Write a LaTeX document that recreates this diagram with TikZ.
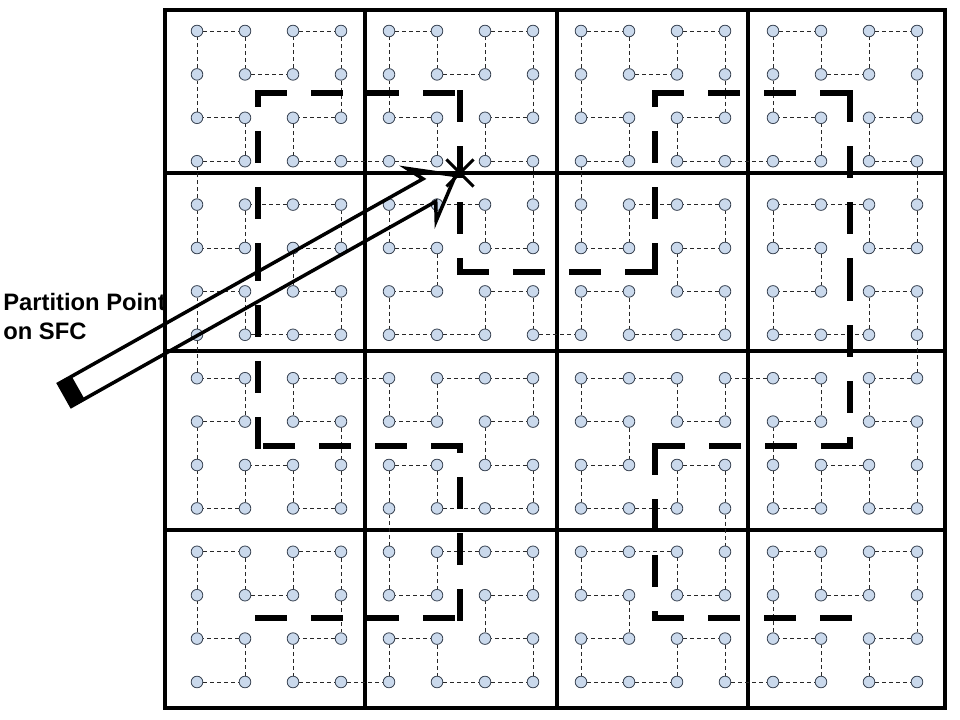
\documentclass[tikz,border=0pt]{standalone}
\usepackage{fontspec}
\setmainfont{Liberation Sans}
\usetikzlibrary{shapes.misc}
\definecolor{dotfill}{RGB}{202,217,236}
\definecolor{dotedge}{RGB}{60,70,85}
\definecolor{finegray}{RGB}{40,40,40}

\newcount\hbx \newcount\hby \newcount\hbt \newcount\hbs
\newcount\hbrx \newcount\hbry \newcount\hbtmp
\newcommand{\hilbertxy}[1]{%
  \hbt=#1\relax \hbx=0 \hby=0 \hbs=1
  \loop\ifnum\hbs<16
    \hbtmp=\hbt \divide\hbtmp by 2
    \hbrx=\hbtmp \divide\hbrx by 2 \multiply\hbrx by -2 \advance\hbrx by \hbtmp
    \hbry=\hbt \divide\hbry by 2 \multiply\hbry by -2 \advance\hbry by \hbt
    \ifnum\hbry=\hbrx \hbry=0 \else \hbry=1 \fi
    \ifnum\hbry=0
      \ifnum\hbrx=1
        \hbx=-\hbx \advance\hbx by \hbs \advance\hbx by -1
        \hby=-\hby \advance\hby by \hbs \advance\hby by -1
      \fi
      \hbtmp=\hbx \hbx=\hby \hby=\hbtmp
    \fi
    \ifnum\hbrx=1 \advance\hbx by \hbs \fi
    \ifnum\hbry=1 \advance\hby by \hbs \fi
    \divide\hbt by 4
    \multiply\hbs by 2
  \repeat}

\begin{document}
\begin{tikzpicture}[
    x=0.025cm, y=-0.025cm,
    gridline/.style={line width=0.08cm, black},
    sfcdot/.style={circle, draw=dotedge, fill=dotfill, line width=0.6pt,
                 minimum size=0.29cm, inner sep=0pt},
    sfcline/.style={finegray, line width=0.024cm, dash pattern=on 0.1cm off 0.075cm},
    coarseline/.style={black, line width=0.165cm, dash pattern=on 0.65cm off 0.75cm, line cap=rect},
    calloutline/.style={black, line width=0.0875cm, line join=miter},
    calloutlabel/.style={font=\bfseries\fontsize{16.9}{20.6}\selectfont, align=left, inner sep=0pt}
]
\useasboundingbox (0,0) rectangle (960,720);
\draw[gridline] (165,10) rectangle (945,708);
\foreach \gx in {365,557,748}
  \draw[gridline] (\gx,10) -- (\gx,708);
\foreach \gy in {173,351,530}
  \draw[gridline] (165,\gy) -- (945,\gy);
\foreach \d in {0,...,255}{
  \hilbertxy{\d}
  \node[sfcdot] (p\d) at ({197+48*\the\hbx},{682-43.4*\the\hby}) {};
}
\foreach \d [evaluate=\d as \n using int(\d+1)] in {0,...,254}
  \draw[sfcline] (p\d) -- (p\n);
\foreach \i/\cx in {0/258,1/460,2/655,3/850}
  \foreach \j/\cy in {0/618,1/446,2/272,3/93}
    \coordinate (c-\i-\j) at (\cx,\cy);
\foreach \a/\b in {0-0/1-0, 1-0/1-1, 1-1/0-1, 0-1/0-2, 0-2/0-3, 0-3/1-3, 1-3/1-2, 1-2/2-2,
                   2-2/2-3, 2-3/3-3, 3-3/3-2, 3-2/3-1, 3-1/2-1, 2-1/2-0, 2-0/3-0}
  \draw[coarseline] (c-\a) -- (c-\b);
\node[cross out, draw, line width=0.075cm, minimum size=0.6cm, inner sep=0pt] (ppoint) at (460,173) {};
\coordinate (arrowtail) at (65,395);
\begin{scope}[shift={(arrowtail)}, rotate=29.34]
  \fill (0,-13) rectangle (15,13);
  \draw[calloutline] (0,-13) -- (418,-13) -- (409,-30) -- (448,0) -- (409,30) -- (418,13) -- (0,13) -- cycle;
\end{scope}
\node[calloutlabel, anchor=north west] (ptlabel) at (3,293) {Partition Point\\on SFC};
\end{tikzpicture}
\end{document}
